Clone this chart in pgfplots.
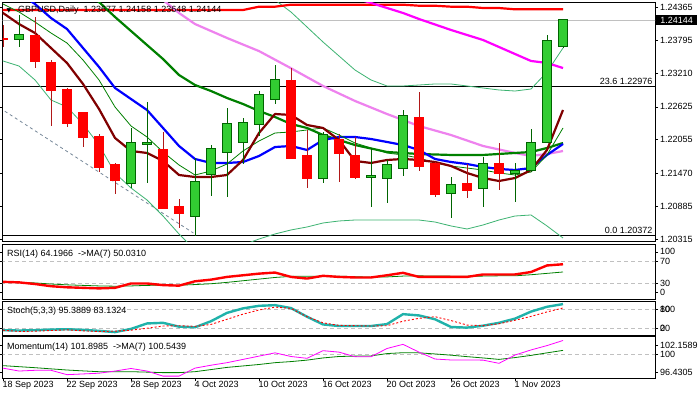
\documentclass[border=0pt]{standalone}
\usepackage{fontspec}
\setmainfont{Liberation Sans}
\newfontfamily\dejavu{DejaVu Sans}
\usepackage{pgfplots}
\usepackage{pgfplotstable}
\pgfplotsset{compat=1.18}
\definecolor{bullfill}{HTML}{32CD32}
\definecolor{bulledge}{HTML}{006400}
\definecolor{bearfill}{HTML}{FF0000}
\definecolor{bearwick}{HTML}{B01818}
\definecolor{maroonma}{HTML}{800000}
\definecolor{greenma}{HTML}{008000}
\definecolor{violetma}{HTML}{EE82EE}
\definecolor{magentama}{HTML}{FF00FF}
\definecolor{bband}{HTML}{3CB371}
\definecolor{trend}{HTML}{778899}
\definecolor{lvl}{HTML}{C0C0C0}
\definecolor{stochc}{HTML}{20B2AA}
\newcommand{\f}{\fontsize{9}{10}\selectfont}

\pgfplotstableread{
i o h l c
1 1.23805 1.24230 1.23677 1.23898
8 1.21288 1.22249 1.21201 1.22005
9 1.21970 1.22715 1.21300 1.22005
12 1.20705 1.21725 1.20372 1.21323
13 1.21445 1.21958 1.21072 1.21900
14 1.21824 1.22610 1.21043 1.22337
15 1.21999 1.22436 1.21620 1.22354
16 1.22319 1.22902 1.22115 1.22843
17 1.22756 1.23356 1.22669 1.23106
20 1.21375 1.22191 1.21300 1.22150
23 1.21393 1.21900 1.20880 1.21434
24 1.21375 1.21696 1.20938 1.21620
25 1.21550 1.22570 1.21422 1.22476
28 1.21113 1.21393 1.20688 1.21270
30 1.21201 1.21754 1.20880 1.21638
32 1.21463 1.21638 1.20956 1.21515
33 1.21515 1.22238 1.21492 1.22005
34 1.22005 1.23881 1.21987 1.23787
35 1.23677 1.24158 1.23648 1.24144
}\bull
\pgfplotstableread{
i o h l c
0 1.23828 1.24055 1.23677 1.23793
2 1.23881 1.24201 1.23298 1.23414
3 1.23409 1.23444 1.22296 1.22913
4 1.22931 1.22948 1.22278 1.22331
5 1.22529 1.22540 1.21929 1.22092
6 1.22115 1.22144 1.21492 1.21562
7 1.21626 1.21649 1.21096 1.21335
10 1.21882 1.22179 1.20840 1.20851
11 1.20892 1.21014 1.20501 1.20758
18 1.23094 1.23298 1.21707 1.21719
19 1.21783 1.22220 1.21212 1.21369
21 1.22063 1.22144 1.21317 1.21806
22 1.21783 1.22104 1.21358 1.21387
26 1.22441 1.22884 1.21509 1.21585
27 1.21638 1.21655 1.21055 1.21096
29 1.21294 1.21626 1.21037 1.21160
31 1.21638 1.21987 1.21171 1.21463
}\bear

\pgfplotsset{
  panel/.style={scale only axis, width=652.3pt, xmin=-0.019, xmax=40.75,
    anchor=south west, axis line style={line width=0.8pt},
    clip mode=individual, xtick=\empty,
    yticklabel pos=right, tick align=outside, major tick length=3pt,
    tick style={black, line width=0.6pt},
    yticklabel style={font=\f, anchor=west, inner sep=0pt, xshift=2pt},
    every axis plot/.append style={line join=round}},
  candle/.style 2 args={draw=none, mark=none,
    error bars/y dir=both, error bars/y explicit, error bars/error mark=none,
    error bars/error bar style={line width=#1, draw=#2, line cap=butt, solid}},
  lev/.style={lvl, line width=0.8pt, dash pattern=on 4pt off 3pt},
}

\begin{document}
\begin{tikzpicture}
\useasboundingbox (0,0) rectangle (700pt,400pt);
\fill[white] (0,0) rectangle (700pt,400pt);

% ---------- main price panel ----------
\begin{axis}[panel, at={(2.7pt,159pt)}, height=239pt, ymin=1.20280, ymax=1.24458,
  ytick={1.24365,1.23795,1.23210,1.22625,1.22055,1.21470,1.20885,1.20315},
  yticklabels={1.24365,1.23795,1.23210,1.22625,1.22055,1.21470,1.20885,1.20315}]
\addplot[lvl, line width=0.8pt] coordinates {(-1,1.24144) (41,1.24144)};
\addplot[black, line width=0.8pt] coordinates {(-1,1.22976) (41,1.22976)};
\addplot[black, line width=0.8pt] coordinates {(-1,1.20372) (41,1.20372)};
% trend line
\addplot[trend, line width=0.8pt, dash pattern=on 3pt off 3pt] coordinates {(-0.2,1.22605) (11.9,1.20420)};
% bollinger bands
\addplot[bband, line width=0.8pt] coordinates {(16,1.24703)(17,1.24493)(18,1.24283)(19,1.24021)(20,1.23759)(21,1.23514)(22,1.23269)(23,1.23095)(24,1.22990)(25,1.22990)(26,1.23007)(27,1.23025)(28,1.23025)(29,1.22990)(30,1.22955)(31,1.22920)(32,1.22902)(33,1.22937)(34,1.23234)(35,1.23654)};
\addplot[bband, line width=0.8pt] coordinates {(-1,1.23497)(0,1.23427)(1,1.23339)(2,1.23095)(3,1.22745)(4,1.22623)(5,1.22325)(6,1.21958)(7,1.21469)(8,1.21207)(9,1.20997)(10,1.20717)(11,1.20403)(12,1.20123)(13,1.19983)(14,1.20088)(15,1.20211)(16,1.20315)(17,1.20403)(18,1.20473)(19,1.20525)(20,1.20595)(21,1.20630)(22,1.20647)(23,1.20647)(24,1.20647)(25,1.20647)(26,1.20647)(27,1.20612)(28,1.20543)(29,1.20490)(30,1.20560)(31,1.20647)(32,1.20717)(33,1.20735)(34,1.20543)(35,1.20333)};
% red top MA
\addplot[red, line width=2.2pt] coordinates {(-1,1.24318)(15,1.24318)(16,1.24376)(17,1.24376)(18,1.24411)(25,1.24411)(26,1.24393)(27,1.24393)(28,1.24376)(29,1.24376)(30,1.24353)(31,1.24353)(32,1.24330)(35,1.24330)};
% magenta MA
\addplot[magentama, line width=2.2pt] coordinates {(21,1.24615)(23,1.24441)(25,1.24266)(26,1.24161)(28,1.23969)(30,1.23794)(32,1.23549)(33,1.23427)(34,1.23392)(35,1.23304)};
% violet MA
\addplot[violetma, line width=2.2pt] coordinates {(9,1.24755)(10,1.24493)(11,1.24266)(12,1.24073)(14,1.23829)(16,1.23600)(18,1.23300)(20,1.22990)(22,1.22728)(24,1.22500)(26,1.22290)(28,1.22133)(30,1.21941)(32,1.21819)(33,1.21766)(34,1.21801)(35,1.21853)};
% green thick MA
\addplot[greenma, line width=2.2pt] coordinates {(5,1.24703)(6,1.24458)(7,1.24196)(8,1.23951)(9,1.23706)(10,1.23462)(11,1.23182)(12,1.23007)(13,1.22902)(14,1.22780)(15,1.22675)(16,1.22553)(17,1.22448)(18,1.22325)(19,1.22256)(20,1.22133)(22,1.21958)(24,1.21836)(26,1.21801)(28,1.21784)(30,1.21784)(32,1.21819)(33,1.21836)(34,1.21906)(35,1.21993)};
% blue MA
\addplot[blue, line width=2.2pt] coordinates {(1,1.24615)(2,1.24423)(3,1.24178)(4,1.23986)(5,1.23654)(6,1.23322)(7,1.22955)(8,1.22762)(9,1.22570)(10,1.22256)(11,1.21941)(12,1.21714)(13,1.21644)(14,1.21644)(15,1.21661)(16,1.21766)(17,1.21923)(18,1.21941)(19,1.21871)(20,1.22046)(21,1.22098)(22,1.22098)(23,1.22063)(24,1.22011)(25,1.21958)(26,1.21871)(27,1.21714)(28,1.21661)(29,1.21626)(30,1.21574)(31,1.21539)(32,1.21521)(33,1.21556)(34,1.21784)(35,1.21976)};
% thin green MA
\addplot[greenma, line width=0.8pt] coordinates {(-1,1.24563)(0,1.24423)(1,1.24283)(2,1.24108)(3,1.23916)(4,1.23741)(5,1.23444)(6,1.23095)(7,1.22623)(8,1.22291)(9,1.22098)(10,1.21836)(11,1.21609)(12,1.21434)(13,1.21504)(14,1.21626)(15,1.21854)(16,1.22028)(17,1.22168)(18,1.22186)(19,1.22221)(20,1.22256)(21,1.22133)(22,1.21993)(23,1.21906)(24,1.21818)(25,1.21784)(26,1.21731)(27,1.21644)(28,1.21591)(29,1.21556)(30,1.21521)(31,1.21469)(32,1.21434)(33,1.21486)(34,1.21784)(35,1.22256)};
% maroon MA
\addplot[maroonma, line width=2.2pt] coordinates {(-1,1.24441)(0,1.24266)(1,1.24073)(2,1.23916)(3,1.23654)(4,1.23392)(5,1.23025)(6,1.22588)(7,1.22081)(8,1.21854)(9,1.21819)(10,1.21679)(11,1.21434)(12,1.21399)(13,1.21399)(14,1.21434)(15,1.21696)(16,1.22168)(17,1.22500)(18,1.22483)(19,1.22308)(20,1.22256)(21,1.22046)(22,1.21679)(23,1.21644)(24,1.21696)(25,1.21714)(26,1.21696)(27,1.21661)(28,1.21591)(29,1.21469)(30,1.21381)(31,1.21329)(32,1.21381)(33,1.21521)(34,1.21871)(35,1.22570)};
% candles: wicks
\addplot[candle={1pt}{bulledge}] table[x=i, y expr={(\thisrow{h}+\thisrow{l})/2}, y error expr={(\thisrow{h}-\thisrow{l})/2}] {\bull};
\addplot[candle={1pt}{bearwick}] table[x=i, y expr={(\thisrow{h}+\thisrow{l})/2}, y error expr={(\thisrow{h}-\thisrow{l})/2}] {\bear};
% candles: bodies
\addplot[candle={10pt}{bulledge}] table[x=i, y expr={(\thisrow{o}+\thisrow{c})/2}, y error expr={abs(\thisrow{c}-\thisrow{o})/2+0.0000874}] {\bull};
\addplot[candle={8pt}{bullfill}] table[x=i, y expr={(\thisrow{o}+\thisrow{c})/2}, y error expr={max(abs(\thisrow{c}-\thisrow{o})/2-0.0000874,0)}] {\bull};
\addplot[candle={10pt}{bearfill}] table[x=i, y expr={(\thisrow{o}+\thisrow{c})/2}, y error expr={abs(\thisrow{o}-\thisrow{c})/2+0.00005}] {\bear};
% labels
\node[anchor=west, fill=black, text=white, font=\f, inner sep=0pt, minimum height=9.5pt, minimum width=41pt, xshift=1pt] at (axis cs:40.75,1.24144) {1.24144};
\node[anchor=south east, font=\f, inner sep=0pt, yshift=1.5pt] at (axis cs:40.6,1.22976) {23.6 1.22976};
\node[anchor=south east, font=\f, inner sep=0pt, yshift=1.5pt] at (axis cs:40.6,1.20372) {0.0 1.20372};
\end{axis}

% ---------- RSI panel ----------
\begin{axis}[panel, at={(2.7pt,100.7pt)}, height=54.6pt, ymin=0, ymax=100,
  ytick={12,30,70,87}, yticklabels={0,30,70,100}]
\addplot[lev] coordinates {(-1,70)(41,70)};
\addplot[lev] coordinates {(-1,30)(41,30)};
\addplot[greenma, line width=0.8pt] coordinates {(0,32)(1,31)(2,30)(3,28)(4,26.5)(5,25.5)(6,24.5)(7,24)(8,24.5)(9,25.5)(10,25.8)(11,25.8)(12,27)(13,28.5)(14,31)(15,34)(16,37)(17,40)(18,42)(19,42.4)(20,42.4)(21,42.4)(22,41.5)(23,40.5)(24,41)(25,42.5)(26,43)(27,42.5)(28,42.4)(29,42.4)(30,42.5)(31,43)(32,43)(33,45)(34,47.5)(35,50.03)};
\addplot[red, line width=2.4pt] coordinates {(0,32)(1,31)(2,28)(3,24)(4,22)(5,21)(6,20)(7,21)(8,29)(9,29)(10,26)(11,25)(12,33)(13,36)(14,41)(15,44)(16,47)(17,49)(18,41)(19,38)(20,43)(21,41)(22,40)(23,40)(24,44)(25,48.5)(26,41)(27,41)(28,41)(29,41)(30,45.5)(31,45.5)(32,45.5)(33,50)(34,62)(35,64.2)};
\end{axis}

% ---------- Stochastic panel ----------
\begin{axis}[panel, at={(2.7pt,65pt)}, height=34pt, ymin=-1, ymax=105,
  ytick={80,20}, yticklabels={80,20},
  extra y ticks={80,20}, extra y tick labels={100,0}]
\addplot[lev] coordinates {(-1,80)(41,80)};
\addplot[lev] coordinates {(-1,20)(41,20)};
\addplot[stochc, line width=2.4pt] coordinates {(0,14)(1,13)(2,14)(3,16)(4,17)(5,15)(6,12)(7,8)(8,18)(9,35)(10,37)(11,25)(12,23)(13,42)(14,68)(15,82)(16,90)(17,92)(18,83)(19,56)(20,32)(21,27)(22,27)(23,27)(24,33)(25,64)(26,60)(27,48)(28,24)(29,22)(30,28)(31,37)(32,50)(33,72)(34,87)(35,95.39)};
\addplot[red, line width=0.9pt, dash pattern=on 2pt off 2pt] coordinates {(0,14)(1,10)(2,11)(3,13)(4,15)(5,12)(6,10)(7,11)(8,14)(9,20)(10,27)(11,28)(12,26)(13,32)(14,48)(15,64)(16,77)(17,86)(18,82)(19,56)(20,37)(21,29)(22,28)(23,27)(24,28)(25,42)(26,51)(27,56)(28,44)(29,30)(30,28)(31,34)(32,45)(33,57)(34,71)(35,83.13)};
\end{axis}

% ---------- Momentum panel ----------
\begin{axis}[panel, at={(2.7pt,21.7pt)}, height=41.6pt, ymin=96.70, ymax=102.42,
  ytick={97.47,100,101.28}, yticklabels={96.4305,100,102.1589},
  xtick={0,4,8,12,16,20,24,28,32},
  xticklabels={18 Sep 2023,22 Sep 2023,28 Sep 2023,4 Oct 2023,10 Oct 2023,16 Oct 2023,20 Oct 2023,26 Oct 2023,1 Nov 2023},
  xtick pos=bottom, xticklabel style={font=\f, anchor=north west, inner sep=0pt, xshift=-0.5pt}]
\addplot[lev] coordinates {(-1,100)(41,100)};
\addplot[greenma, line width=0.8pt] coordinates {(0,98.44)(1,98.3)(2,98.16)(3,98.0)(4,97.84)(5,97.72)(6,97.61)(7,97.61)(8,97.61)(9,97.55)(10,97.48)(11,97.48)(12,97.61)(13,97.9)(14,98.2)(15,98.4)(16,98.6)(17,98.85)(18,99.0)(19,99.2)(20,99.5)(21,99.7)(22,99.75)(23,99.78)(24,100.1)(25,100.22)(26,100.2)(27,100.05)(28,99.88)(29,99.68)(30,99.5)(31,99.3)(32,99.55)(33,99.85)(34,100.2)(35,100.54)};
\addplot[magentama, line width=0.8pt] coordinates {(0,98.1)(1,97.7)(2,97.8)(3,97.8)(4,97.2)(5,97.3)(6,97.4)(7,97.7)(8,98.05)(9,97.7)(10,97.0)(11,97.0)(12,98.1)(13,98.5)(14,98.85)(15,99.3)(16,99.75)(17,100.2)(18,99.7)(19,99.45)(20,100.5)(21,100.3)(22,99.67)(23,99.67)(24,100.8)(25,101.37)(26,100.3)(27,99.35)(28,99.22)(29,99.22)(30,99.2)(31,98.76)(32,99.9)(33,100.6)(34,101.2)(35,101.90)};
\end{axis}

% ---------- panel captions ----------
\node[anchor=west, inner sep=0pt] at (6.5pt,389.5pt) {\dejavu\fontsize{6}{6}\selectfont ▼};
\node[anchor=west, inner sep=0pt, font=\f] at (18pt,390pt) {GBPUSD,Daily\ \ 1.23677 1.24158 1.23648 1.24144};
\node[anchor=west, inner sep=0pt, font=\f] at (7pt,146pt) {RSI(14) 64.1966\ \ ->MA(7) 50.0310};
\node[anchor=west, inner sep=0pt, font=\f] at (7pt,89.3pt) {Stoch(5,3,3) 95.3889 83.1324};
\node[anchor=west, inner sep=0pt, font=\f] at (7pt,52.7pt) {Momentum(14) 101.8985\ \ ->MA(7) 100.5439};
\end{tikzpicture}
\end{document}
